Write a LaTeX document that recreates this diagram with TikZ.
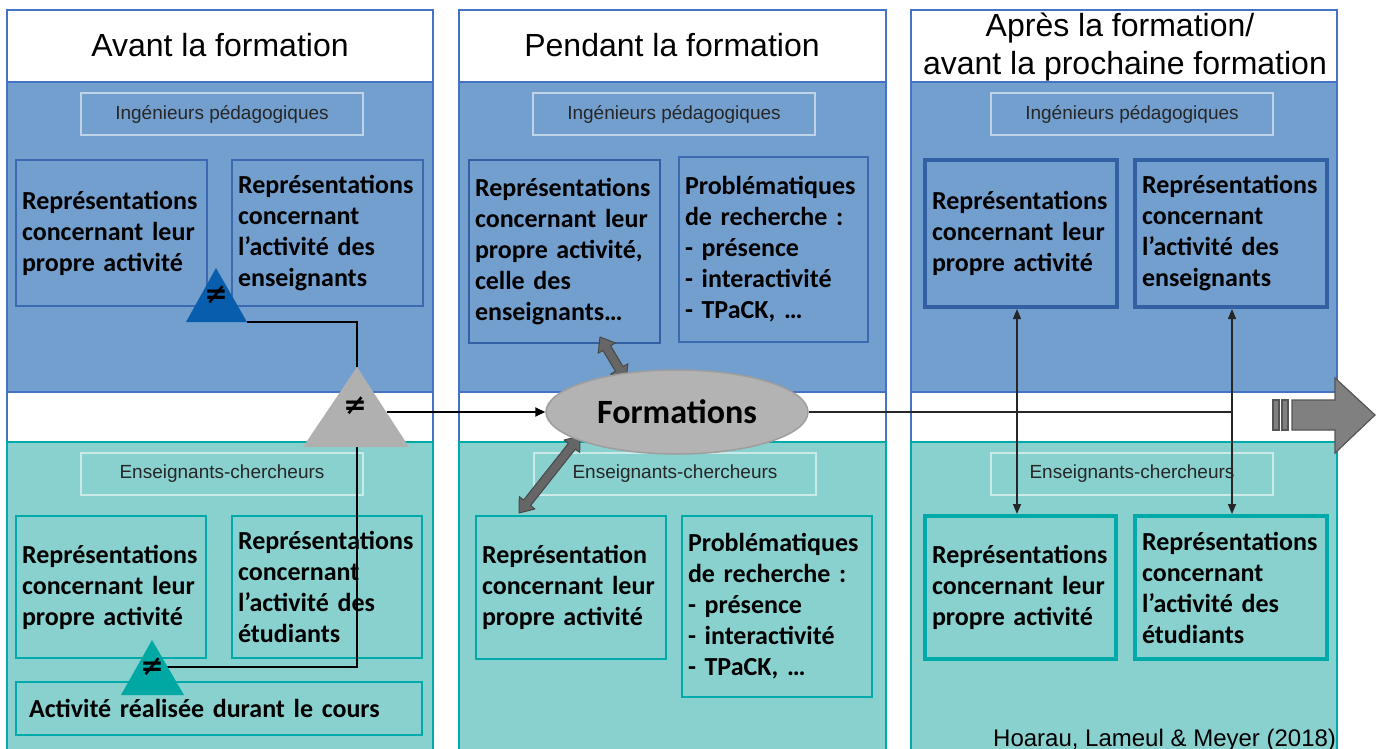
\documentclass[tikz,border=0pt]{standalone}
\usepackage{fontspec}
\setmainfont{Liberation Sans}
\newfontfamily\boxfont{Carlito}
\newfontfamily\symfont{DejaVu Sans}
\usetikzlibrary{arrows.meta,shapes.geometric}
\definecolor{bluefill}{RGB}{115,159,207}
\definecolor{colline}{RGB}{68,114,196}
\definecolor{bboxline}{RGB}{60,106,176}
\definecolor{bboxdark}{RGB}{50,96,162}
\definecolor{tealfill}{RGB}{137,209,207}
\definecolor{tealline}{RGB}{0,170,168}
\definecolor{bluetri}{RGB}{8,94,172}
\definecolor{tealtri}{RGB}{0,168,164}
\definecolor{graytri}{RGB}{176,176,176}
\definecolor{ellfill}{RGB}{179,179,179}
\definecolor{ellline}{RGB}{158,158,158}
\definecolor{blockfill}{RGB}{102,102,102}
\definecolor{blockline}{RGB}{72,72,72}
\definecolor{bigfill}{RGB}{128,128,128}
\definecolor{bigline}{RGB}{85,85,85}
\newcommand\boxfontset{\boxfont\bfseries\fontsize{26}{31}\selectfont\spaceskip=0.15em\relax}
\begin{document}
\begin{tikzpicture}[x=1pt,y=-1pt,
  boxtext/.style={align=left, inner xsep=6pt, inner ysep=2pt, text=black,
    font=\boxfontset},
  bbox/.style={boxtext, draw=bboxline, line width=1.5pt, fill=bluefill},
  bboxmid/.style={boxtext, draw=bboxdark, line width=2.5pt, fill=bluefill},
  bboxthick/.style={boxtext, draw=bboxdark, line width=4.5pt, fill=bluefill, inner xsep=7pt},
  tbox/.style={boxtext, draw=tealline, line width=2pt, fill=tealfill},
  tboxthick/.style={boxtext, draw=tealline, line width=4.5pt, fill=tealfill, inner xsep=7pt},
  sublabel/.style={draw=white, draw opacity=0.55, line width=1.5pt, minimum width=282pt,
    minimum height=42pt, inner sep=0pt, text=black!85, font=\fontsize{19}{21}\selectfont},
  header/.style={anchor=base, text=black, font=\fontsize{32}{38}\selectfont},
  neq/.style={text=black, inner sep=0pt, font=\symfont\bfseries\fontsize{28}{30}\selectfont},
  conn/.style={draw=black, line width=2.5pt},
  thinarrow/.style={draw=black!85, line width=1.5pt, {Triangle[length=10pt,width=8pt]}-{Triangle[length=10pt,width=8pt]}},
  blockarrow/.style={fill=blockfill, draw=blockline, line width=1pt, line join=round}
]
\useasboundingbox (0,0) rectangle (1382,749);
\fill[white] (0,0) rectangle (1382,749);

% columns
\foreach \xa/\xb in {7/433, 459/886, 911/1337}{
  \draw[colline, line width=1.5pt, fill=white] (\xa,10) rectangle (\xb,760);
  \draw[colline, line width=1.5pt, fill=bluefill] (\xa,82) rectangle (\xb,392);
  \draw[tealline, line width=1.5pt, fill=tealfill] (\xa,442) rectangle (\xb,760);
}

% headers
\node[header] (h1) at (220,57) {Avant la formation};
\node[header] (h2) at (672,57) {Pendant la formation};
\node[header] (h3a) at (1120,37) {Après la formation/};
\node[header] (h3b) at (1125,75) {avant la prochaine formation};

% sub labels
\node[sublabel] (s1) at (222,114) {Ingénieurs pédagogiques};
\node[sublabel] (s2) at (674,114) {Ingénieurs pédagogiques};
\node[sublabel] (s3) at (1132,114) {Ingénieurs pédagogiques};
\node[sublabel] (e1) at (222,474) {Enseignants-chercheurs};
\node[sublabel] (e2) at (675,474) {Enseignants-chercheurs};
\node[sublabel] (e3) at (1132,474) {Enseignants-chercheurs};

% column 1 boxes
\node[bbox, text width=179pt, minimum height=146pt] (B1a) at (111.5,233) {Représentations\\concernant~leur\\propre~activité};
\node[bbox, text width=179pt, minimum height=146pt] (B1b) at (327.5,233) {Représentations\\concernant\\l’activité~des\\enseignants};
\node[tbox, text width=178pt, minimum height=142pt] (T1a) at (111,587) {Représentations\\concernant~leur\\propre~activité};
\node[tbox, text width=178pt, minimum height=142pt] (T1b) at (327,587) {Représentations\\concernant\\l’activité~des\\étudiants};
\node[tbox, text width=380pt, inner xsep=13pt, minimum height=53pt] (T1c) at (219,708.5) {Activité réalisée durant le cours};

% column 2 boxes
\node[bboxmid, text width=179pt, minimum height=183pt] (B2a) at (564.5,251.5) {Représentations\\concernant~leur\\propre~activité,\\celle~des\\enseignants…};
\node[bbox, text width=177pt, minimum height=185pt] (B2b) at (773.5,249.5) {Problématiques\\de~recherche~:\\-~présence\\-~interactivité\\-~TPaCK,~…};
\node[tbox, text width=178pt, minimum height=143pt] (T2a) at (571,587.5) {Représentation\\concernant~leur\\propre~activité};
\node[tbox, text width=178pt, minimum height=181pt] (T2b) at (777,606.5) {Problématiques\\de~recherche~:\\-~présence\\-~interactivité\\-~TPaCK,~…};

% column 3 boxes
\node[bboxthick, text width=178pt, minimum height=147pt] (B3a) at (1021,233.5) {Représentations\\concernant~leur\\propre~activité};
\node[bboxthick, text width=178pt, minimum height=147pt] (B3b) at (1231,233.5) {Représentations\\concernant\\l’activité~des\\enseignants};
\node[tboxthick, text width=177pt, minimum height=143pt] (T3a) at (1020.5,587.5) {Représentations\\concernant~leur\\propre~activité};
\node[tboxthick, text width=178pt, minimum height=143pt] (T3b) at (1231,587.5) {Représentations\\concernant\\l’activité~des\\étudiants};

% triangles
\coordinate (btA) at (216,268); \coordinate (btL) at (186,322); \coordinate (btR) at (247,322);
\coordinate (gtA) at (357,367); \coordinate (gtL) at (303,447); \coordinate (gtR) at (409,447);
\coordinate (gtB) at (357,447); \coordinate (gtE) at (387,412);
\coordinate (ttA) at (152,640); \coordinate (ttL) at (121,695); \coordinate (ttR) at (184,695);
\coordinate (ttE) at (167,667);

% connectors col 1
\draw[conn] (btR) -| (gtA);
\draw[conn] (gtB) |- (ttE);

\fill[bluetri] (btA) -- (btL) -- (btR) -- cycle;
\fill[graytri] (gtA) -- (gtL) -- (gtR) -- cycle;
\fill[tealtri] (ttA) -- (ttL) -- (ttR) -- cycle;
\node[neq] (n1) at (216,295) {≠};
\node[neq] (n2) at (355,406) {≠};
\node[neq] (n3) at (152,667) {≠};

% block double arrows
\path[blockarrow] (600,337) -- (598.1,353.3) -- (602.9,350.4) -- (615.4,371.2) -- (610.7,374.1)
  -- (626,380) -- (627.9,363.7) -- (623.1,366.6) -- (610.6,345.8) -- (615.3,342.9) -- cycle;
\path[blockarrow] (580,436) -- (564.1,440.0) -- (568.4,443.4) -- (523.6,500.0) -- (519.3,496.6)
  -- (519,513) -- (534.9,509.0) -- (530.6,505.6) -- (575.4,449.0) -- (579.7,452.4) -- cycle;

% ellipse
\node[ellipse, fill=ellfill, draw=ellline, line width=1.5pt, minimum width=262pt, minimum height=84pt,
  inner sep=0pt, font=\boxfont\bfseries\fontsize{34}{36}\selectfont] (F) at (677,412) {Formations};

\draw[draw=black, line width=2pt, -{Triangle[length=10pt,width=9pt]}] (gtE) -- (F.west);
\coordinate (J) at (1232,412);
\draw[draw=black!85, line width=2.4pt] (F.east) -- (J);

% vertical arrows col 3
\coordinate (v1a) at (1017,309); \coordinate (v1b) at (1017,514);
\coordinate (v2a) at (1232,309); \coordinate (v2b) at (1232,514);
\draw[thinarrow] (v1a) -- (v1b);
\draw[thinarrow] (v2a) -- (v2b);

% big arrow
\path[fill=bigfill, draw=bigline, line width=1.2pt, line join=miter]
  (1292,400) -- (1335,400) -- (1335,378) -- (1375,415) -- (1335,453) -- (1335,430) -- (1292,430) -- cycle;
\path[fill=bigfill, draw=bigline, line width=1.2pt] (1273,400) rectangle (1279,430);
\path[fill=bigfill, draw=bigline, line width=1.2pt] (1282,400) rectangle (1288,430);

% citation
\node[anchor=base west, inner sep=0pt, text=black, font=\fontsize{24}{28}\selectfont] (cit) at (993,746) {Hoarau, Lameul \& Meyer (2018)};
\end{tikzpicture}
\end{document}
